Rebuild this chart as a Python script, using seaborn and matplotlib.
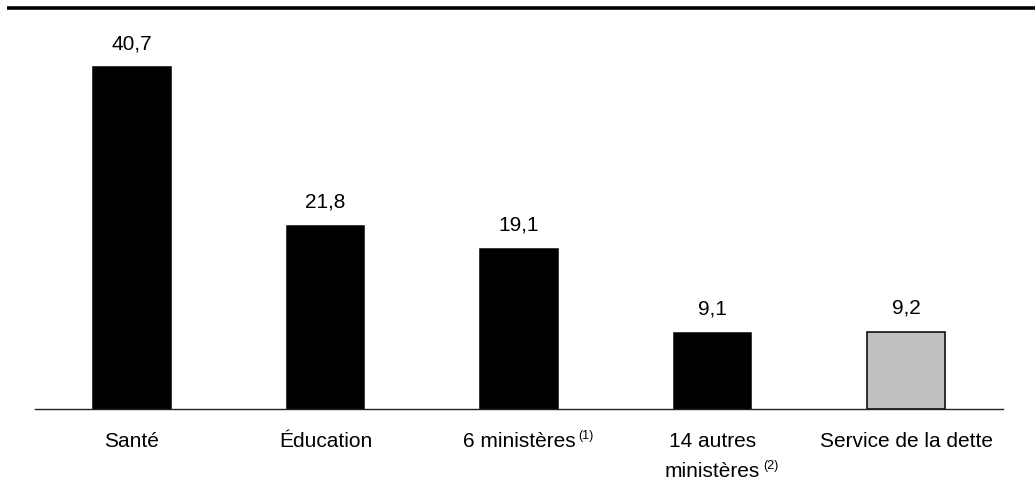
import matplotlib
matplotlib.use("Agg")
import matplotlib.pyplot as plt
from matplotlib.lines import Line2D
import seaborn as sns
import pandas as pd

# Data
categories = ["Santé", "Éducation", "6 ministères", "14 autres\nministères", "Service de la dette"]
notes = ["", "", "(1)", "(2)", ""]
values = [40.7, 21.8, 19.1, 9.1, 9.2]
bar_colors = ["#000000", "#000000", "#000000", "#000000", "#C0C0C0"]

sns.set_theme(style="white")
plt.rcParams["font.family"] = ["Liberation Sans", "DejaVu Sans"]

df = pd.DataFrame({"categorie": categories, "valeur": values})

fig = plt.figure(figsize=(10.35, 5.0), dpi=100)
ax = fig.add_axes([35 / 1035, 1 - 409 / 500, 968 / 1035, 378 / 500])

sns.barplot(data=df, x="categorie", y="valeur", hue="categorie",
            palette=bar_colors, legend=False, width=0.4, ax=ax,
            edgecolor="#000000", linewidth=1.1, saturation=1)

ax.set_xlim(-0.5, len(categories) - 0.5)
ax.set_ylim(0, 45)
ax.set_xlabel("")
ax.set_ylabel("")
ax.set_xticks([])
ax.set_yticks([])
for side in ["top", "left", "right"]:
    ax.spines[side].set_visible(False)
ax.spines["bottom"].set_color("#222222")
ax.spines["bottom"].set_linewidth(1.0)

# Value labels above the bars
for i, v in enumerate(values):
    ax.annotate(f"{v:.1f}".replace(".", ","), xy=(i, v), xytext=(0, 18),
                textcoords="offset pixels", ha="center", va="baseline",
                fontsize=15, color="#000000")

# Category labels (one text per line, baselines 30 px apart) with footnote markers
for i, (lab, note) in enumerate(zip(categories, notes)):
    last = None
    for k, line in enumerate(lab.split("\n")):
        last = ax.annotate(line, xy=(i, 0), xytext=(0, -38 - 30 * k),
                           textcoords="offset pixels", ha="center", va="baseline",
                           fontsize=15, color="#000000", annotation_clip=False)
    if note:
        ax.annotate(note, xy=(1, 0), xycoords=last, xytext=(3, 8.5),
                    textcoords="offset pixels", ha="left", va="bottom",
                    fontsize=9, color="#000000")

# Heavy rule across the top
fig.add_artist(Line2D([7 / 1035, 1.0], [1 - 7.7 / 500, 1 - 7.7 / 500],
                      color="#000000", linewidth=2.6, solid_capstyle="butt"))

fig.savefig("out.png", dpi=100, facecolor="white")
